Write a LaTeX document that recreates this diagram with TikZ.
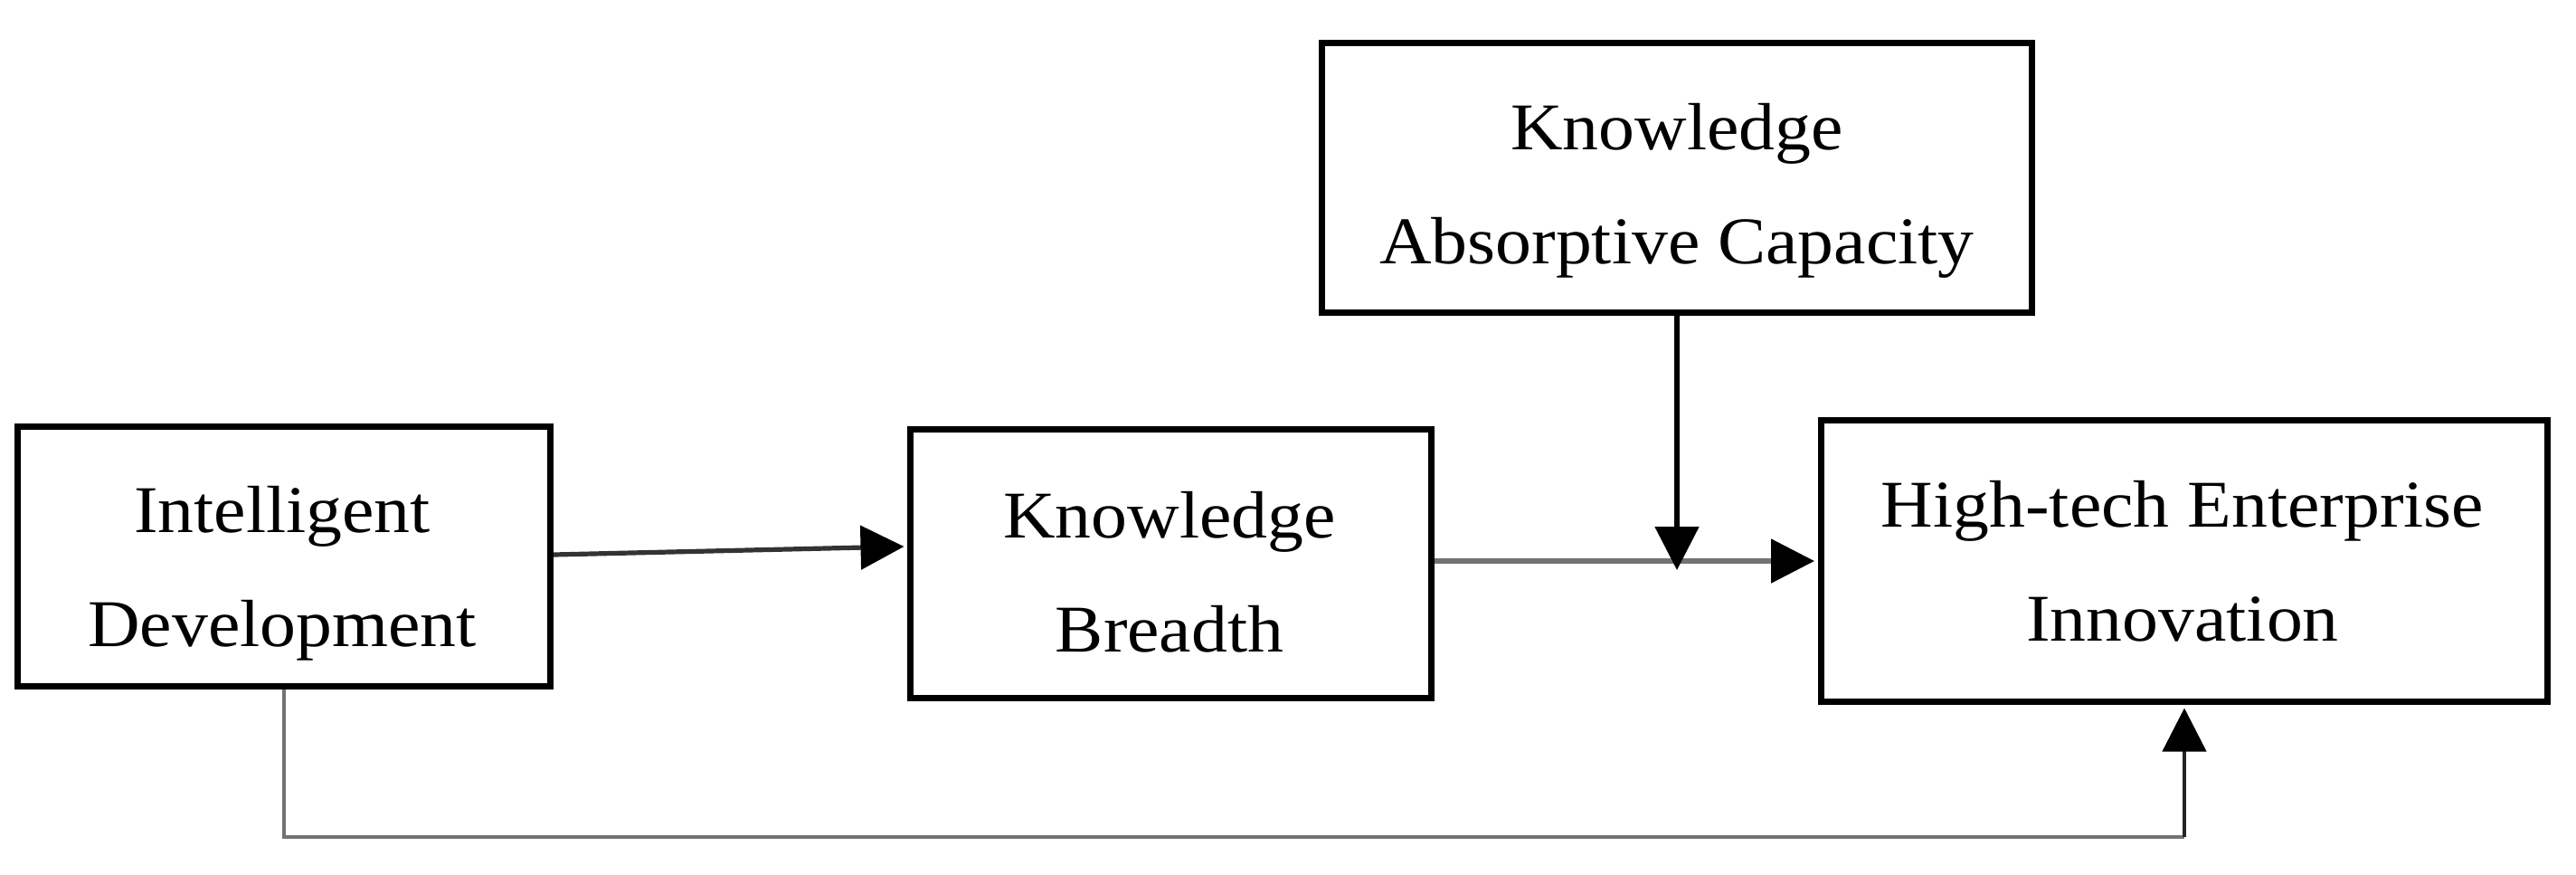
\documentclass[tikz,border=0pt]{standalone}
\usepackage{fontspec}
\setmainfont[FakeStretch=1.08]{Liberation Serif}
\usetikzlibrary{arrows.meta,calc}
\begin{document}
\begin{tikzpicture}[
  boxnode/.style={draw=black, line width=0.07cm, rectangle, inner sep=0pt, fill=white},
  txt/.style={anchor=base, inner sep=0pt, font=\fontsize{21pt}{35.85pt}\selectfont},
  conn/.style={line width=0.052cm, -{Triangle[length=0.48cm,width=0.48cm,color=black]}},
  plain/.style={line width=0.045cm, black!55},
]
\useasboundingbox (0,0) rectangle (28.48,-9.66);
% boxes
\node[boxnode, minimum width=5.89cm, minimum height=2.87cm] (b1) at (3.14,-6.15) {};
\node[boxnode, minimum width=5.76cm, minimum height=2.97cm] (b2) at (12.945,-6.23) {};
\node[boxnode, minimum width=7.85cm, minimum height=2.98cm] (b3) at (18.54,-1.965) {};
\node[boxnode, minimum width=8.03cm, minimum height=3.11cm] (b4) at (24.15,-6.20) {};
% texts
\node[txt] (t1) at (3.12,-5.88) {\begin{tabular}[t]{@{}c@{}}Intelligent\\Development\end{tabular}};
\node[txt] (t2) at (12.93,-5.94) {\begin{tabular}[t]{@{}c@{}}Knowledge\\Breadth\end{tabular}};
\node[txt] (t3) at (18.54,-1.65) {\begin{tabular}[t]{@{}c@{}}Knowledge\\Absorptive Capacity\end{tabular}};
\node[txt] (t4) at (24.13,-5.82) {\begin{tabular}[t]{@{}c@{}}High-tech Enterprise\\Innovation\end{tabular}};
% connectors
\draw[conn, black!80] ([yshift=0.02cm]b1.east) -- ($(b2.west)+(-0.035,0.19)$);
\draw[conn, black!55] ([yshift=0.03cm]b2.east) -- ([xshift=-0.04cm]b4.west);
\coordinate (j) at (18.54,-6.30);
\draw[conn, black] (b3.south) -- (j);
\coordinate (bot) at (3.12,-9.25);
\coordinate (corner) at (b4.south |- bot);
\draw[plain] (b1.south) -- (b1.south |- bot) -- (corner);
\draw[conn, black!85, line width=0.045cm] (corner) -- ([yshift=-0.035cm]b4.south);
\end{tikzpicture}
\end{document}
